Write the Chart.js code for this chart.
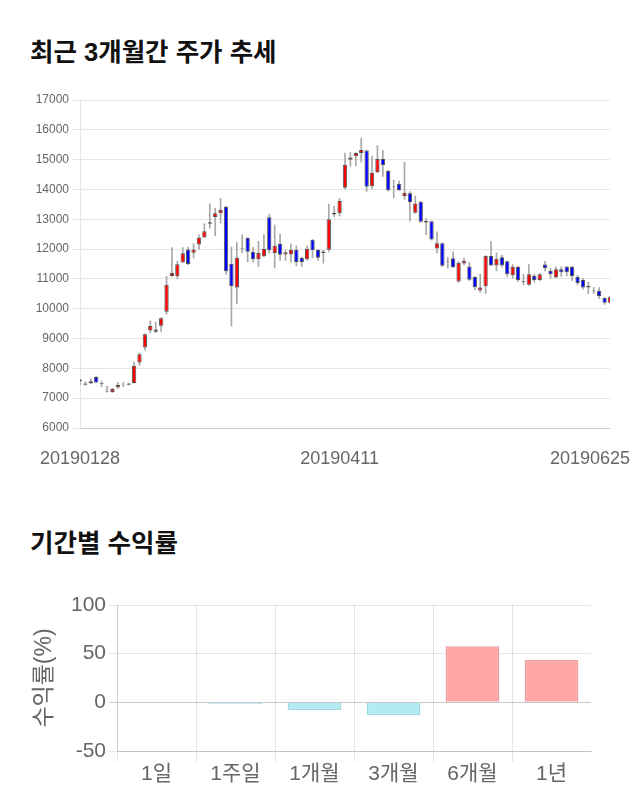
<!DOCTYPE html>
<html lang="ko">
<head>
<meta charset="utf-8">
<script src="https://cdn.jsdelivr.net/npm/chart.js@4.4.1/dist/chart.umd.min.js"></script>
<style>
  body { margin: 0; width: 640px; height: 810px; background: #fff; position: relative; font-family: 'Liberation Sans', 'Noto Sans CJK KR', sans-serif; }
  h2 { position: absolute; left: 30px; margin: 0; font-size: 25.5px; font-weight: bold; color: #111; line-height: 30px; }
  #price-title { top: 37px; }
  #return-title { top: 528px; }
  canvas { position: absolute; left: 0; }
  #price-chart { top: 80px; }
  #return-chart { top: 580px; }
</style>
</head>
<body>
<h2 id="price-title">최근 3개월간 주가 추세</h2>
<canvas id="price-chart" width="640" height="400"></canvas>
<h2 id="return-title">기간별 수익률</h2>
<canvas id="return-chart" width="640" height="220"></canvas>
<script>
// daily candles, 20190128 ~ 20190625
const dates = [
  '20190128', '20190129', '20190130', '20190131',
  '20190207', '20190208', '20190211', '20190212', '20190213', '20190214', '20190215',
  '20190218', '20190219', '20190220', '20190221', '20190222', '20190225', '20190226', '20190227', '20190228',
  '20190304', '20190305', '20190306', '20190307', '20190308', '20190311', '20190312', '20190313', '20190314', '20190315',
  '20190318', '20190319', '20190320', '20190321', '20190322', '20190325', '20190326', '20190327', '20190328', '20190329',
  '20190401', '20190402', '20190403', '20190404', '20190405', '20190408', '20190409', '20190410', '20190411', '20190412',
  '20190415', '20190416', '20190417', '20190418', '20190419', '20190422', '20190423', '20190424', '20190425', '20190426',
  '20190429', '20190430', '20190502', '20190503', '20190507', '20190508', '20190509', '20190510',
  '20190513', '20190514', '20190515', '20190516', '20190517', '20190520', '20190521', '20190522', '20190523', '20190524',
  '20190527', '20190528', '20190529', '20190530', '20190531', '20190603', '20190604', '20190605', '20190607',
  '20190610', '20190611', '20190612', '20190613', '20190614', '20190617', '20190618', '20190619', '20190620', '20190621',
  '20190624', '20190625'
]
const shownDates = ['20190128', '20190411', '20190625']

const opens = [7620, 7450, 7500, 7710, 7510, 7220, 7210, 7370, 7450, 7450,
  7510, 8200, 8700, 9270, 9300, 9430, 9900, 11100, 11090, 11550,
  11990, 11880, 12150, 12390, 12850, 13080, 13200, 13420, 11510, 10710,
  12000, 12370, 11910, 11660, 11760, 13070, 11870, 12180, 11820, 11820,
  11980, 11710, 11660, 12310, 11980, 11870, 11980, 13160, 13200, 14060,
  15000, 15110, 15220, 15310, 14110, 14580, 15020, 14630, 14080, 14190,
  13780, 13870, 13220, 13590, 12890, 12930, 12020, 12200, 11580, 11690,
  10910, 11520, 11420, 11060, 10610, 10750, 11770, 11450, 11730, 11590,
  11120, 11410, 10900, 10800, 11110, 10960, 11480, 11270, 11050, 11320,
  11410, 11410, 11060, 10960, 10760, 10590, 10600, 10360, 10200]
const highs = [7640, 7550, 7650, 7740, 7570, 7400, 7330, 7520, 7530, 7500,
  8210, 8520, 9160, 9590, 9550, 9700, 11090, 12050, 11590, 12050,
  12070, 12180, 12480, 12850, 13520, 13370, 13700, 13440, 12070, 12220,
  12480, 12380, 12060, 12260, 12490, 13170, 12810, 12500, 11960, 12180,
  12110, 11720, 12110, 12320, 11990, 11960, 13510, 13440, 13700, 15220,
  15240, 15230, 15720, 15320, 15110, 15470, 15310, 14640, 14310, 14280,
  14920, 13930, 13780, 13600, 13020, 12940, 12580, 12210, 11720, 11910,
  11580, 11700, 11560, 11080, 11160, 11780, 12250, 11870, 11800, 11600,
  11480, 11420, 11160, 11480, 11160, 11180, 11590, 11360, 11410, 11410,
  11420, 11420, 11120, 11020, 10890, 10710, 10710, 10370, 10420]
const lows = [7450, 7440, 7480, 7520, 7380, 7200, 7190, 7330, 7380, 7440,
  7500, 8100, 8620, 9200, 9200, 9240, 9810, 11080, 11000, 11550,
  11480, 11700, 12000, 12390, 12700, 12450, 12870, 11150, 9420, 10180,
  11870, 11570, 11570, 11420, 11740, 11870, 11370, 11620, 11620, 11560,
  11440, 11420, 11620, 11710, 11620, 11530, 11920, 13090, 13110, 14020,
  14780, 14800, 14920, 13930, 14020, 14560, 14440, 13940, 13720, 13960,
  13670, 12940, 13200, 12900, 12480, 12300, 11870, 11420, 11360, 11380,
  10880, 11470, 10950, 10640, 10550, 10510, 11440, 11270, 11400, 11080,
  11020, 10910, 10800, 10780, 10890, 10940, 11270, 11020, 11040, 11080,
  11100, 10950, 10800, 10660, 10510, 10510, 10340, 10140, 10180]
const closes = [7580, 7490, 7570, 7530, 7480, 7250, 7310, 7440, 7460, 7490,
  8090, 8470, 9140, 9420, 9230, 9680, 10800, 11200, 11490, 11860,
  11500, 11990, 12390, 12600, 12900, 13200, 13310, 11260, 10760, 11710,
  12020, 11910, 11660, 11870, 12000, 11960, 12110, 11810, 11890, 11980,
  11570, 11570, 12010, 11960, 11710, 11920, 13000, 13210, 13610, 14830,
  15070, 15220, 15320, 14090, 14560, 15020, 14810, 13970, 14100, 13970,
  13890, 13580, 13530, 12920, 12940, 12320, 12200, 11440, 11600, 11390,
  11540, 11610, 10970, 10720, 10710, 11770, 11450, 11680, 11450, 11160,
  11410, 10960, 10920, 11160, 10960, 11160, 11360, 11160, 11320, 11220,
  11220, 11100, 10860, 10710, 10710, 10610, 10430, 10200, 10400]

const priceTicks = { min: 6000, max: 17000, step: 1000 }

// period returns (%)
const periods = ['1일', '1주일', '1개월', '3개월', '6개월', '1년']
const returns = [0, -2, -8, -13, 57.5, 43.5]
const returnTicks = { min: -50, max: 100, step: 50 }

const fontFamily = "'Liberation Sans', 'Noto Sans CJK KR', sans-serif"
const gridColor = 'rgba(0,0,0,0.1)'

// last date label is pulled left so it stays inside the canvas
const pullLastLabel = {
  id: 'pullLastLabel',
  beforeDraw(chart) {
    const items = chart.scales.x.getLabelItems()
    const last = items[items.length - 1]
    if (!last) return
    last.options.textAlign = 'right'
    last.options.translation[0] = chart.width - 10
  }
}

// CANDLES
const wicks = lows.map((l, i) => [l, highs[i]])
const bodies = opens.map((o, i) => [o, closes[i]])
const bodyColors = opens.map((o, i) => closes[i] >= o ? '#ff0000' : '#0000ff')

new Chart(document.getElementById('price-chart'), {
  type: 'bar',
  data: {
    labels: dates,
    datasets: [
      {
        data: wicks,
        backgroundColor: '#a8a8a8',
        barThickness: 1,
        grouped: false,
        order: 2
      },
      {
        data: bodies,
        backgroundColor: bodyColors,
        borderColor: 'rgba(50,50,50,0.8)',
        borderWidth: 1,
        borderSkipped: false,
        barPercentage: 0.8,
        categoryPercentage: 1,
        grouped: false,
        order: 1
      }
    ]
  },
  options: {
    responsive: false,
    animation: false,
    layout: { padding: { top: 20, right: 30 } },
    plugins: { legend: { display: false }, tooltip: { enabled: false } },
    scales: {
      x: {
        offset: false,
        grid: { display: false },
        border: { color: gridColor },
        ticks: {
          autoSkip: false,
          maxRotation: 0,
          padding: 12,
          color: '#666',
          font: { family: fontFamily, size: 18 },
          callback: (value, index) => shownDates.includes(dates[index]) ? dates[index] : ''
        },
        afterFit: (scale) => {
          scale.height = 52
          scale.paddingLeft = 0
          scale.paddingRight = 0
        }
      },
      y: {
        min: priceTicks.min,
        max: priceTicks.max,
        grid: { color: gridColor },
        border: { color: gridColor },
        ticks: {
          stepSize: priceTicks.step,
          color: '#666',
          font: { family: fontFamily, size: 12 },
          callback: (value) => String(value)
        },
        afterFit: (scale) => { scale.width = 80 }
      }
    }
  },
  plugins: [pullLastLabel]
})

// RETURNS
new Chart(document.getElementById('return-chart'), {
  type: 'bar',
  data: {
    labels: periods,
    datasets: [
      {
        data: returns,
        backgroundColor: returns.map((v) => v >= 0 ? '#ffa6a6' : '#b3ebf2'),
        borderColor: returns.map((v) => v >= 0 ? '#eb9c9c' : '#9fd8e0'),
        borderWidth: 1.5,
        barPercentage: 0.85
      }
    ]
  },
  options: {
    responsive: false,
    animation: false,
    layout: { padding: { top: 25, left: 31, right: 49 } },
    plugins: { legend: { display: false }, tooltip: { enabled: false } },
    scales: {
      x: {
        grid: {
          color: (ctx) => ctx.type === 'tick' ? gridColor : 'rgba(0,0,0,0)',
          tickLength: 11
        },
        border: { color: 'rgba(0,0,0,0.15)' },
        ticks: {
          padding: 0,
          color: '#666',
          font: { family: fontFamily, size: 21 }
        },
        afterFit: (scale) => { scale.height = 49 }
      },
      y: {
        min: returnTicks.min,
        max: returnTicks.max,
        grid: {
          color: (ctx) => ctx.tick && ctx.tick.value === 0 ? 'rgba(0,0,0,0.22)' : gridColor
        },
        border: { color: gridColor },
        ticks: {
          stepSize: returnTicks.step,
          color: '#666',
          font: { family: fontFamily, size: 21 }
        },
        title: {
          display: true,
          text: '수익률(%)',
          color: '#666',
          padding: 0,
          font: { family: fontFamily, size: 23 }
        },
        afterFit: (scale) => { scale.width = 86 }
      }
    }
  }
})
</script>
</body>
</html>
